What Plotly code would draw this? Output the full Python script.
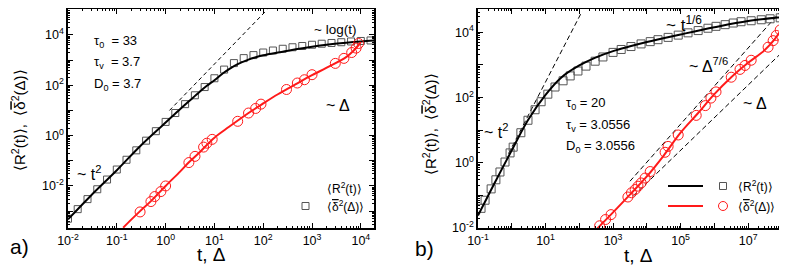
import plotly.graph_objects as go

# ---------------- Panel a data ----------------
a_sq_t = [0.01, 0.0158, 0.0251, 0.0398, 0.0631, 0.1, 0.158, 0.251, 0.398, 0.631,
          1, 1.58, 2.51, 3.98, 6.31, 10, 15.8, 25.1, 39.8, 63.1,
          100, 158, 251, 398, 631, 1000, 1580, 2510, 3980, 6310, 10000, 15800]
a_sq_R2 = [5.0e-4, 1.2e-3, 3.0e-3, 7.4e-3, 0.018, 0.045, 0.11, 0.26, 0.63, 1.5,
           3.5, 7.9, 17.8, 40, 85, 190, 420, 760, 1200, 1580,
           2000, 2400, 2820, 3240, 3630, 4070, 4470, 4790, 5130, 5500, 5750, 6030]

a_line_t = [0.01, 0.03, 0.1, 0.3, 1, 2, 3, 5, 7, 10, 15, 20, 30, 50, 70, 100,
            200, 300, 500, 1000, 2000, 5000, 10000, 20000]
a_line_R2 = [4.7e-4, 4.3e-3, 0.042, 0.38, 3.3, 11.5, 23, 55, 95, 158, 300, 440,
             690, 1050, 1290, 1550, 2000, 2290, 2750, 3390, 4070, 4900, 5500, 6030]

a_circ_d = [0.3, 0.5, 0.6, 0.8, 1, 3, 4, 6, 7, 9, 30, 50, 70, 90,
            300, 500, 700, 1000, 3000, 4500, 6500, 8000, 9000]
a_circ_msd = [9.3e-4, 2.4e-3, 3.8e-3, 6.0e-3, 0.01, 0.085, 0.15, 0.35, 0.5, 0.71,
              3.7, 7.9, 12, 17.8, 68, 123, 166, 263, 740, 1170, 2000, 3000, 4570]

a_rline_d = [0.135, 0.2, 0.3, 0.5, 1, 2, 3, 5, 10, 20, 50, 100, 200, 500, 1000,
             2000, 5000, 7000, 9000, 10000]
a_rline_msd = [2.2e-4, 4.7e-4, 1.0e-3, 2.5e-3, 0.01, 0.038, 0.087, 0.22, 0.83,
               2.24, 7.9, 19, 44, 120, 251, 500, 1320, 2290, 3980, 5250]

a_dash_t = [1.2, 120]
a_dash_y = [10, 1.0e5]

# ---------------- Panel b data ----------------
b_sq_t = [0.123, 0.162, 0.245, 0.339, 0.447, 0.631, 0.891, 1.10, 1.86, 3.02, 4.90,
          7.41, 11.7, 19.1, 33.1, 53.7, 91.2, 158, 295, 501, 1000, 1740, 3390,
          6760, 1.26e4, 2.14e4, 4.27e4, 8.51e4, 1.66e5, 3.31e5, 6.46e5, 1.12e6,
          2.09e6, 3.63e6, 6.17e6, 1.23e7, 2.45e7, 4.47e7, 8.91e7]
b_sq_R2 = [0.040, 0.071, 0.158, 0.30, 0.52, 1.05, 2.0, 3.0, 8.3, 20, 42, 74, 126,
           209, 324, 457, 646, 912, 1290, 1740, 2400, 2950, 3630, 4370, 5130, 5890,
           6920, 8130, 9550, 11200, 13200, 15100, 17000, 19100, 20900, 22400,
           24000, 25700, 27500]

b_line_t = [0.1, 0.3, 1, 3, 10, 30, 100, 300, 1000, 3000, 1e4, 1e5, 1e6, 1e7, 1e8, 1.26e8]
b_line_R2 = [0.024, 0.224, 2.4, 20, 120, 417, 955, 1660, 2630, 3630, 5010, 8510,
             14100, 21900, 28800, 29500]

b_circ_d = [400, 600, 870, 2750, 3500, 4500, 5500, 6800, 8900, 12600, 34700, 42700,
            85100, 2.9e5, 5.4e5, 7.9e5, 1.12e6, 3.16e6, 5.75e6, 8.1e6, 1.23e7,
            3.9e7, 5.5e7, 6.8e7, 8.9e7, 1.26e8]
b_circ_msd = [0.0117, 0.0182, 0.0257, 0.089, 0.120, 0.151, 0.191, 0.240, 0.339,
              0.537, 2.09, 3.16, 7.08, 28.2, 56.2, 95.5, 148, 417, 724, 955, 1380,
              3470, 5500, 7940, 11700, 23400]

b_rline_d = [282, 1000, 3160, 1e4, 3.16e4, 1e5, 3.16e5, 1e6, 3.16e6, 1e7, 3.16e7,
             6.3e7, 1e8, 1.26e8]
b_rline_msd = [0.0079, 0.030, 0.105, 0.38, 1.66, 8.3, 31.6, 126, 417, 1150, 2880,
               6310, 13200, 24000]

b_dash_t = [0.8, 110]
b_dash_y = [1.9, 3.6e4]
b_dash76_d = [3160, 1.0e8]
b_dash76_y = [0.27, 4.8e4]
b_dash1_d = [4000, 1.74e8]
b_dash1_y = [0.096, 4170]

# tick labels
a_x_ticks = [0.01, 0.1, 1, 10, 100, 1000, 10000]
a_x_text = ["10<sup>-2</sup>", "10<sup>-1</sup>", "10<sup>0</sup>", "10<sup>1</sup>",
            "10<sup>2</sup>", "10<sup>3</sup>", "10<sup>4</sup>"]
a_y_ticks = [1e-3, 1e-2, 1e-1, 1, 10, 100, 1e3, 1e4, 1e5]
a_y_text = ["", "10<sup>-2</sup>", "", "10<sup>0</sup>", "", "10<sup>2</sup>", "",
            "10<sup>4</sup>", ""]
b_x_ticks = [0.1, 1, 10, 100, 1e3, 1e4, 1e5, 1e6, 1e7, 1e8]
b_x_text = ["10<sup>-1</sup>", "", "10<sup>1</sup>", "", "10<sup>3</sup>", "",
            "10<sup>5</sup>", "", "10<sup>7</sup>", ""]
b_y_ticks = [1e-2, 1e-1, 1, 10, 100, 1e3, 1e4]
b_y_text = ["10<sup>-2</sup>", "", "10<sup>0</sup>", "", "10<sup>2</sup>", "",
            "10<sup>4</sup>"]


def minors(lo, hi):
    out = []
    for e in range(lo, hi + 1):
        for m in range(2, 10):
            out.append(m * 10.0 ** e)
    return out


W, H = 787, 266
FONT = "Arial, Liberation Sans, sans-serif"
BLACK = "#000000"
RED = "#ff1a1a"
SQ = "#555555"

fig = go.Figure()

# panel a traces
fig.add_trace(go.Scatter(x=a_dash_t, y=a_dash_y, mode="lines",
                         line=dict(color=BLACK, width=1, dash="4px,3px"),
                         xaxis="x", yaxis="y"))
fig.add_trace(go.Scatter(x=a_sq_t, y=a_sq_R2, mode="markers",
                         marker=dict(symbol="square-open", size=7, color=SQ,
                                     line=dict(width=1)), xaxis="x", yaxis="y"))
fig.add_trace(go.Scatter(x=a_line_t, y=a_line_R2, mode="lines",
                         line=dict(color=BLACK, width=2, shape="spline"), xaxis="x", yaxis="y"))
fig.add_trace(go.Scatter(x=a_circ_d, y=a_circ_msd, mode="markers",
                         marker=dict(symbol="circle-open", size=10, color=RED,
                                     line=dict(width=1)), xaxis="x", yaxis="y"))
fig.add_trace(go.Scatter(x=a_rline_d, y=a_rline_msd, mode="lines",
                         line=dict(color=RED, width=2, shape="spline"), xaxis="x", yaxis="y"))

# panel b traces
for xs, ys in [(b_dash_t, b_dash_y), (b_dash76_d, b_dash76_y), (b_dash1_d, b_dash1_y)]:
    fig.add_trace(go.Scatter(x=xs, y=ys, mode="lines",
                             line=dict(color=BLACK, width=1, dash="5px,3px"),
                             xaxis="x2", yaxis="y2"))
fig.add_trace(go.Scatter(x=b_sq_t, y=b_sq_R2, mode="markers",
                         marker=dict(symbol="square-open", size=8, color=SQ,
                                     line=dict(width=1)), xaxis="x2", yaxis="y2"))
fig.add_trace(go.Scatter(x=b_line_t, y=b_line_R2, mode="lines",
                         line=dict(color=BLACK, width=2, shape="spline"), xaxis="x2", yaxis="y2"))
fig.add_trace(go.Scatter(x=b_circ_d, y=b_circ_msd, mode="markers",
                         marker=dict(symbol="circle-open", size=10, color=RED,
                                     line=dict(width=1)), xaxis="x2", yaxis="y2"))
fig.add_trace(go.Scatter(x=b_rline_d, y=b_rline_msd, mode="lines",
                         line=dict(color=RED, width=2, shape="spline"), xaxis="x2", yaxis="y2"))


def axis(domain, rng, tv, tt, mv, anchor):
    return dict(type="log", domain=domain, range=rng, anchor=anchor, automargin=False,
                tickvals=tv, ticktext=tt, ticks="inside", ticklen=5, tickwidth=1,
                tickcolor=BLACK, showline=True, linecolor=BLACK, linewidth=1.5,
                mirror="ticks", showgrid=False, zeroline=False,
                tickfont=dict(family=FONT, size=12.5, color=BLACK),
                minor=dict(tickvals=mv, ticks="inside", ticklen=2.5, tickcolor=BLACK,
                           tickwidth=1, showgrid=False))


ydom = [46 / H, 265 / H]
fig.update_layout(
    width=W, height=H, margin=dict(l=0, r=0, t=0, b=0, autoexpand=False),
    paper_bgcolor="white", plot_bgcolor="white", showlegend=False,
    xaxis=axis([60 / W, 366 / W], [-2, 4.27], a_x_ticks, a_x_text, minors(-2, 4), "y"),
    yaxis=axis(ydom, [-3.67, 5.03], a_y_ticks, a_y_text, minors(-4, 4), "x"),
    xaxis2=axis([470 / W, 782 / W], [-1, 8.24], b_x_ticks, b_x_text, minors(-1, 8), "y2"),
    yaxis2=axis(ydom, [-2, 4.71], b_y_ticks, b_y_text, minors(-2, 4), "x2"),
)


def px(x):
    return x / W


def py(y):
    return 1 - y / H


ann = []


def text(x, y, s, size=13, xanchor="left", angle=0):
    ann.append(dict(x=px(x), y=py(y), xref="paper", yref="paper", text=s,
                    showarrow=False, xanchor=xanchor, yanchor="middle",
                    textangle=angle, font=dict(family=FONT, size=size, color=BLACK)))


OV = "<span style='text-decoration:overline'>δ</span>"
# panel a
text(84, 33, "τ<sub>0</sub>  = 33", 13)
text(84, 55, "τ<sub>v</sub>  = 3.7", 13)
text(84, 76, "D<sub>0</sub> = 3.7", 13)
text(304, 22, "~ log(t)", 13.5)
text(316, 97, "~ Δ", 16)
text(67, 165, "~ t<sup>2</sup>", 16)
text(317, 180, "⟨R<sup>2</sup>(t)⟩", 12)
text(317, 198, "⟨" + OV + "<sup>2</sup>(Δ)⟩", 12)
text(10, 112, "⟨R<sup>2</sup>(t)⟩,  ⟨" + OV + "<sup>2</sup>(Δ)⟩", 15, "center", -90)
text(203, 246, "t, Δ", 19, "center")
text(11, 238, "a)", 21, "center")
# panel b
text(556, 95, "τ<sub>0</sub> = 20", 13)
text(556, 117, "τ<sub>v</sub> = 3.0556", 13)
text(556, 138, "D<sub>0</sub> = 3.0556", 13)
text(656, 16, "~ t<sup>1/6</sup>", 17)
text(679, 57, "~ Δ<sup>7/6</sup>", 16)
text(733, 95, "~ Δ", 16)
text(474, 123, "~ t<sup>2</sup>", 16)
text(728, 178, "⟨R<sup>2</sup>(t)⟩", 12)
text(728, 198, "⟨" + OV + "<sup>2</sup>(Δ)⟩", 12)
text(421, 116, "⟨R<sup>2</sup>(t)⟩,  ⟨" + OV + "<sup>2</sup>(Δ)⟩", 15, "center", -90)
text(630, 247, "t, Δ", 19, "center")
text(416, 240, "b)", 21, "center")

shapes = [
    dict(type="rect", xref="paper", yref="paper", x0=px(294), x1=px(301), y0=py(194.5),
         y1=py(201.5), line=dict(color=SQ, width=1)),
    dict(type="line", xref="paper", yref="paper", x0=px(660), x1=px(695), y0=py(178),
         y1=py(178), line=dict(color=BLACK, width=2)),
    dict(type="rect", xref="paper", yref="paper", x0=px(711.5), x1=px(718.5), y0=py(174.5),
         y1=py(181.5), line=dict(color=SQ, width=1)),
    dict(type="line", xref="paper", yref="paper", x0=px(660), x1=px(695), y0=py(198),
         y1=py(198), line=dict(color=RED, width=2)),
    dict(type="circle", xref="paper", yref="paper", x0=px(710.5), x1=px(719.5), y0=py(193.5),
         y1=py(202.5), line=dict(color=RED, width=1)),
]
fig.update_layout(annotations=ann, shapes=shapes)

fig.write_html("out.html")
